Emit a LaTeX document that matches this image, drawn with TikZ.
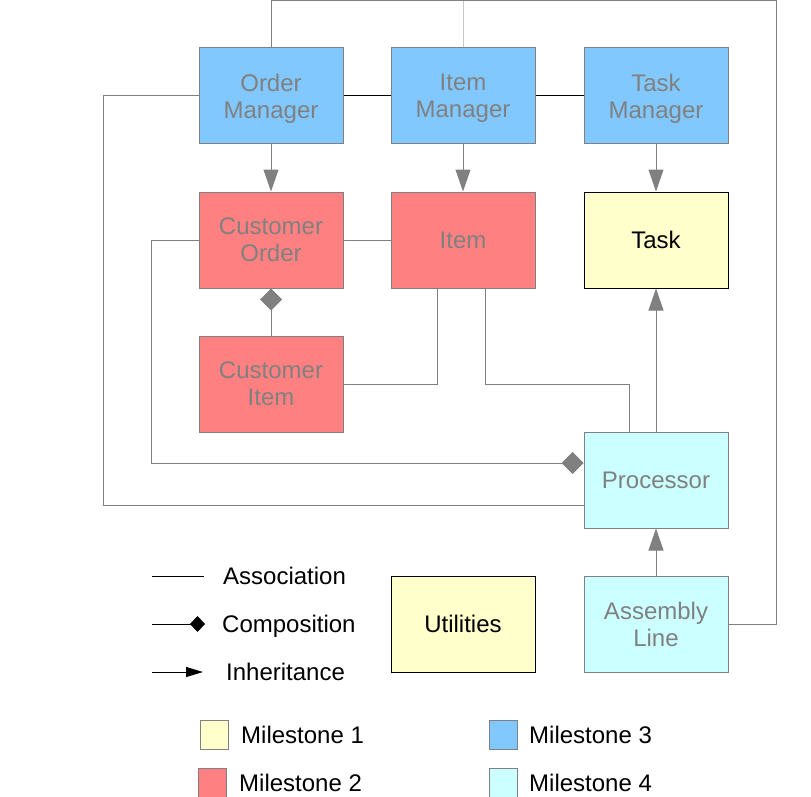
\documentclass[tikz,border=0pt]{standalone}
\usepackage{fontspec}
\setmainfont{Liberation Sans}
\usetikzlibrary{arrows.meta}
\definecolor{msone}{HTML}{FFFFCC}
\definecolor{mstwo}{HTML}{FF8080}
\definecolor{msthree}{HTML}{80C8FF}
\definecolor{msfour}{HTML}{CCFFFF}
\definecolor{linegray}{HTML}{808080}
\definecolor{lightline}{HTML}{C8C8C8}
\tikzset{
  cls/.style={draw=linegray, line width=1pt, minimum width=144pt, minimum height=96pt,
    inner sep=0pt, align=center, text=linegray, text depth=0pt, font=\fontsize{24}{27}\selectfont},
  keybox/.style={draw=linegray, line width=1pt, minimum width=28pt, minimum height=29pt, inner sep=0pt},
  legtext/.style={anchor=west, inner sep=0pt, text depth=0pt, font=\fontsize{24}{27}\selectfont},
  assoc/.style={draw=linegray, line width=1pt},
  inherit/.style={assoc, -{Triangle[length=22pt,width=15pt]}},
  compose/.style={assoc, -{Diamond[length=22pt,width=22pt]}}
}
\begin{document}
\begin{tikzpicture}[x=1pt,y=-1pt]
    \useasboundingbox (0,0) rectangle (811,797);
    % classes
    \node[cls, fill=msthree] (ordmgr) at (271,96) {Order\\Manager};
    \node[cls, fill=msthree] (itemmgr) at (463,96) {Item\\Manager};
    \node[cls, fill=msthree] (taskmgr) at (656,96) {Task\\Manager};
    \node[cls, fill=mstwo] (custord) at (271,240) {Customer\\Order};
    \node[cls, fill=mstwo] (item) at (463,240) {Item};
    \node[cls, fill=msone, draw=black, text=black] (task) at (656,240) {Task};
    \node[cls, fill=mstwo] (custitem) at (271,384) {Customer\\Item};
    \node[cls, fill=msfour] (proc) at (656,480) {Processor};
    \node[cls, fill=msone, draw=black, text=black] (utils) at (463,624) {Utilities};
    \node[cls, fill=msfour] (asmline) at (656,624) {Assembly\\Line};
    \coordinate (topright) at (776,1);
    \coordinate (omleft) at (103,96);
    \coordinate (coleft) at (151,240);
    % connectors
    \draw[assoc] (ordmgr.north) |- (topright) |- (asmline.east);
    \draw[assoc, draw=lightline] (itemmgr.north) -- (itemmgr.north |- topright);
    \draw[line width=1pt] (ordmgr.east) -- (itemmgr.west);
    \draw[line width=1pt] (itemmgr.east) -- (taskmgr.west);
    \draw[assoc] (ordmgr.west) -- (omleft) |- ([yshift=23pt]proc.south west);
    \draw[compose] (custord.west) -- (coleft) |- ([yshift=17pt]proc.west);
    \draw[assoc] (custord.east) -- (item.west);
    \draw[compose] (custitem.north) -- (custord.south);
    \draw[assoc] ([xshift=-26pt]item.south) |- (custitem.east);
    \draw[assoc] ([xshift=22pt]item.south) -- ++(0,96) -| ([xshift=-27pt]proc.north);
    \draw[inherit] (ordmgr.south) -- (custord.north);
    \draw[inherit] (itemmgr.south) -- (item.north);
    \draw[inherit] (taskmgr.south) -- (task.north);
    \draw[inherit] (proc.north) -- (task.south);
    \draw[inherit] (asmline.north) -- (proc.south);
    % legend
    \coordinate (assocA) at (152,576);
    \coordinate (assocB) at (204,576);
    \coordinate (compA) at (152,624);
    \coordinate (compB) at (205,624);
    \coordinate (inhA) at (152,672);
    \coordinate (inhB) at (203,672);
    \draw[line width=1pt] (assocA) -- (assocB);
    \draw[line width=1pt, -{Diamond[length=15pt,width=16pt]}] (compA) -- (compB);
    \draw[line width=1pt, -{Triangle[length=17pt,width=10pt]}] (inhA) -- (inhB);
    \node[legtext] (assoctext) at (223,576) {Association};
    \node[legtext] (comptext) at (222,624) {Composition};
    \node[legtext] (inhtext) at (226,672) {Inheritance};
    \node[keybox, fill=msone] (keyone) at (214,735) {};
    \node[keybox, fill=mstwo] (keytwo) at (212,783) {};
    \node[keybox, fill=msthree] (keythree) at (503,735) {};
    \node[keybox, fill=msfour] (keyfour) at (503,783) {};
    \node[legtext] (mstext1) at (241,735) {Milestone 1};
    \node[legtext] (mstext2) at (239,783) {Milestone 2};
    \node[legtext] (mstext3) at (529,735) {Milestone 3};
    \node[legtext] (mstext4) at (529,783) {Milestone 4};
\end{tikzpicture}
\end{document}
